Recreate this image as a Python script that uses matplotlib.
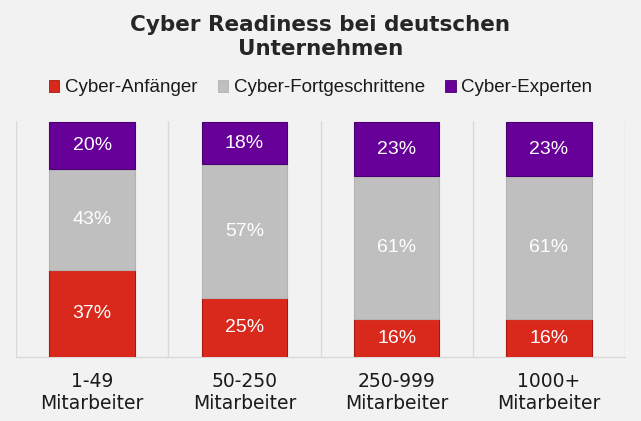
import matplotlib
matplotlib.use("Agg")
import matplotlib.pyplot as plt
from matplotlib.patches import Patch
import numpy as np

categories = ["1-49\nMitarbeiter", "50-250\nMitarbeiter", "250-999\nMitarbeiter", "1000+\nMitarbeiter"]
series_names = ["Cyber-Anfänger", "Cyber-Fortgeschrittene", "Cyber-Experten"]
anfaenger = [37, 25, 16, 16]
fortgeschrittene = [43, 57, 61, 61]
experten = [20, 18, 23, 23]
colors = ["#d9291c", "#bfbfbf", "#660099"]
edges = ["#a5190f", "#b3b3b3", "#4a0070"]
title = "Cyber Readiness bei deutschen\nUnternehmen"

bg = "#f2f2f2"
fig = plt.figure(figsize=(6.41, 4.21), dpi=100, facecolor=bg)
ax = fig.add_axes([16/641, 64/421, 609/641, 236/421], facecolor=bg)

x = np.arange(len(categories))
width = 0.56
bottom = np.zeros(len(categories))
for vals, c, ec in zip([anfaenger, fortgeschrittene, experten], colors, edges):
    vals = np.array(vals, dtype=float)
    ax.bar(x, vals, width, bottom=bottom, color=c, edgecolor=ec, linewidth=0.8, zorder=3)
    for xi, v, b in zip(x, vals, bottom):
        ax.text(xi, b + v / 2, f"{int(v)}%", ha="center", va="center", color="white",
                fontsize=14, family="Liberation Sans", zorder=4)
    bottom += vals

ax.set_xlim(-0.5, len(categories) - 0.5)
ax.set_ylim(0, 100.5)
for b in np.arange(-0.5, len(categories), 1.0):
    ax.axvline(b, color="#d9d9d9", lw=1, zorder=1)
for s in ["top", "right", "left"]:
    ax.spines[s].set_visible(False)
ax.spines["bottom"].set_color("#d9d9d9")
ax.spines["bottom"].set_linewidth(1)
ax.set_yticks([])
ax.set_xticks(x)
ax.set_xticklabels(categories, fontsize=13.5, family="DejaVu Sans", color="#1a1a1a", linespacing=1.15)
ax.tick_params(axis="x", length=0, pad=11)

fig.text(0.5, 1 - 37/421, title, ha="center", va="center", fontsize=15.5, fontweight="bold",
         family="DejaVu Sans", color="#262626", linespacing=1.3)

handles = [Patch(facecolor=c, edgecolor=ec, linewidth=0.6) for c, ec in zip(colors, edges)]
leg = fig.legend(handles, series_names, loc="center", bbox_to_anchor=(0.5, 1 - 88/421), ncol=3,
                 frameon=False, prop={"family": "Liberation Sans", "size": 13.5},
                 handlelength=0.55, handleheight=0.55, handletextpad=0.3, columnspacing=1.1,
                 borderaxespad=0)
for t in leg.get_texts():
    t.set_color("#1a1a1a")

fig.savefig("out.png", dpi=100, facecolor=bg)
